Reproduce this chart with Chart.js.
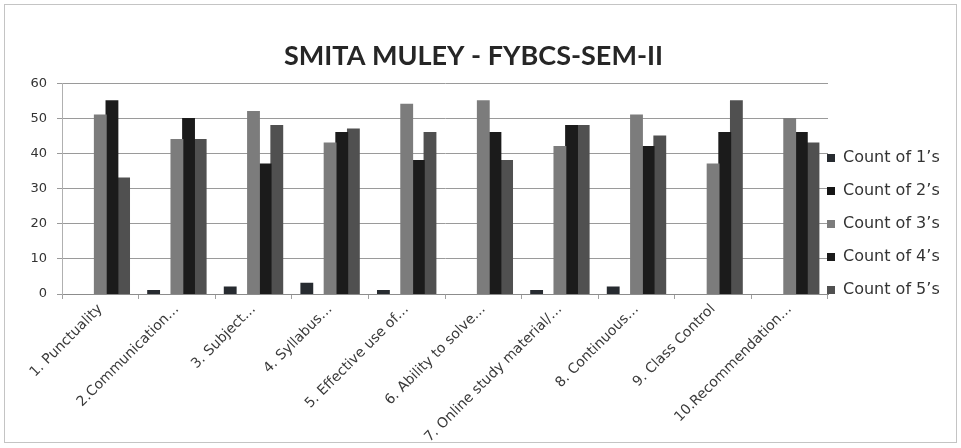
<!doctype html>
<html lang="en">

<head>
    <meta charset="utf-8">
    <title>SMITA MULEY - FYBCS-SEM-II</title>
    <script src="https://cdn.jsdelivr.net/npm/chart.js@4.4.0/dist/chart.umd.min.js"></script>
    <style>
        body {
            margin: 0;
            background: #ffffff;
        }

        #wrap {
            position: relative;
            width: 961px;
            height: 448px;
        }

        #frame {
            position: absolute;
            left: 4px;
            top: 4px;
            width: 951px;
            height: 437px;
            border: 1px solid #c4c4c4;
            pointer-events: none;
        }
    </style>
</head>

<body>
    <div id="wrap">
        <canvas id="myChart" width="961" height="448"></canvas>
        <div id="frame"></div>
    </div>
</body>
<script>
    // chart data
    const categories = [
        "1. Punctuality",
        "2.Communication…",
        "3. Subject…",
        "4. Syllabus…",
        "5. Effective use of…",
        "6. Ability to solve…",
        "7. Online study material/…",
        "8. Continuous…",
        "9. Class Control",
        "10.Recommendation…"
    ];
    const seriesNames = ["Count of 1’s", "Count of 2’s", "Count of 3’s", "Count of 4’s", "Count of 5’s"];
    const count1 = [0, 1, 2, 3, 1, 0, 1, 2, 0, 0];
    const count2 = [0, 0, 0, 0, 0, 0, 0, 0, 0, 0];
    const count3 = [51, 44, 52, 43, 54, 55, 42, 51, 37, 50];
    const count4 = [55, 50, 37, 46, 38, 46, 48, 42, 46, 46];
    const count5 = [33, 44, 48, 47, 46, 38, 48, 45, 55, 43];
    const yTicks = [0, 10, 20, 30, 40, 50, 60];

    const colors = ["#272b30", "#151515", "#7c7c7c", "#1b1b1b", "#505050"];
    const allSeries = [count1, count2, count3, count4, count5];

    // move legend next to the plot and the title a bit left, like in the Excel sheet
    const boxShift = {
        id: 'boxShift',
        afterLayout: (chart) => {
            let lg = chart.legend;
            let w = lg.width;
            lg.left = chart.chartArea.right - 18;
            lg.right = lg.left + w;
            chart.titleBlock.left -= 7;
            chart.titleBlock.right -= 7;
        }
    };

    let showChart = () => {
        let ctx = document.getElementById("myChart");

        let datasets = seriesNames.map((name, i) => ({
            label: name,
            data: allSeries[i],
            backgroundColor: colors[i],
            borderWidth: 0,
            // close the hairline gaps, but keep zero bars invisible
            inflateAmount: (c) => (c.raw === 0 ? 0 : 0.6)
        }));

        new Chart(ctx, {
            type: 'bar',
            data: {
                labels: categories,
                datasets: datasets
            },
            plugins: [boxShift],
            options: {
                responsive: false,
                animation: false,
                layout: { padding: 0 },
                datasets: {
                    bar: { barPercentage: 1.0, categoryPercentage: 0.76 }
                },
                plugins: {
                    title: {
                        display: true,
                        text: "SMITA MULEY - FYBCS-SEM-II",
                        color: "#262626",
                        font: { family: "Lato", size: 27, weight: "bold", lineHeight: 1.2 },
                        padding: { top: 40, bottom: 11 }
                    },
                    legend: {
                        position: 'right',
                        maxWidth: 133,
                        labels: {
                            boxWidth: 8,
                            boxHeight: 8,
                            padding: 17,
                            color: "#333333",
                            font: { family: "DejaVu Sans", size: 16 }
                        }
                    },
                    tooltip: { enabled: false }
                },
                scales: {
                    x: {
                        afterFit: (scale) => { scale.height = 154; },
                        grid: {
                            display: true,
                            drawOnChartArea: false,
                            tickLength: 5,
                            color: "#a0a0a0"
                        },
                        border: { color: "#8c8c8c" },
                        ticks: {
                            autoSkip: false,
                            minRotation: 45,
                            maxRotation: 45,
                            padding: 2,
                            color: "#3a3a3a",
                            font: { family: "DejaVu Sans", size: 14 }
                        }
                    },
                    y: {
                        min: yTicks[0],
                        max: yTicks[yTicks.length - 1],
                        afterFit: (scale) => { scale.width = 62; },
                        afterBuildTicks: (scale) => {
                            scale.ticks = yTicks.map(v => ({ value: v }));
                        },
                        grid: {
                            color: "#9a9a9a",
                            tickLength: 5
                        },
                        border: { color: "#b0b0b0" },
                        ticks: {
                            padding: 10,
                            color: "#333333",
                            font: { family: "DejaVu Sans", size: 13 }
                        }
                    }
                }
            }
        });
    };

    showChart();
</script>

</html>
